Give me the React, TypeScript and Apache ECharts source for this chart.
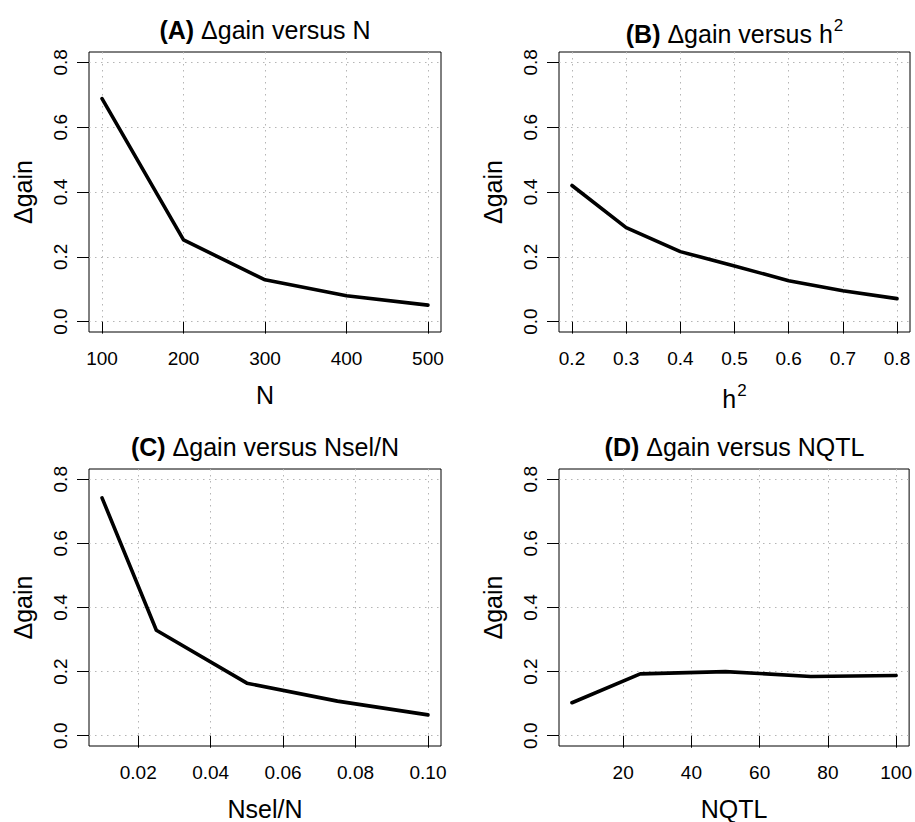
import React, { useEffect, useRef } from "react";
import * as echarts from "echarts";

// ---- data ----
const nValues = [100, 200, 300, 400, 500];
const gainN = [0.688, 0.252, 0.129, 0.08, 0.051];

const h2Values = [0.2, 0.3, 0.4, 0.5, 0.6, 0.7, 0.8];
const gainH2 = [0.42, 0.29, 0.216, 0.172, 0.126, 0.095, 0.071];

const nselValues = [0.01, 0.025, 0.05, 0.075, 0.1];
const gainNsel = [0.742, 0.329, 0.164, 0.108, 0.065];

const qtlValues = [5, 25, 50, 75, 100];
const gainQtl = [0.103, 0.193, 0.2, 0.185, 0.188];

const yTicks = [0, 0.2, 0.4, 0.6, 0.8];
const nTicks = [100, 200, 300, 400, 500];
const h2Ticks = [0.2, 0.3, 0.4, 0.5, 0.6, 0.7, 0.8];
const nselTicks = [0.02, 0.04, 0.06, 0.08, 0.1];
const qtlTicks = [20, 40, 60, 80, 100];

const FONT = "Liberation Sans, Arial, Helvetica, sans-serif";

const richStyles = {
  b: { fontFamily: FONT, fontSize: 25, fontWeight: "bold", color: "#000" },
  n: { fontFamily: FONT, fontSize: 25, fontWeight: "normal", color: "#000" },
  s: { fontFamily: FONT, fontSize: 17, fontWeight: "normal", color: "#000", verticalAlign: "top", padding: [0, 0, 16, 1] },
};

function extend(lo: number, hi: number) {
  const d = (hi - lo) * 0.04;
  return [lo - d, hi + d];
}

type Panel = {
  title: string;
  xName: string;
  xs: number[];
  ys: number[];
  xTicks: number[];
  xDec: number;
  left: number;
  top: number;
  width: number;
  height: number;
};

const panels: Panel[] = [
  { title: "{b|(A)} {n|Δgain versus N}", xName: "{n|N}", xs: nValues, ys: gainN, xTicks: nTicks, xDec: 0, left: 89, top: 52, width: 352, height: 280 },
  { title: "{b|(B)} {n|Δgain versus h}{s|2}", xName: "{n|h}{s|2}", xs: h2Values, ys: gainH2, xTicks: h2Ticks, xDec: 1, left: 559, top: 52, width: 351, height: 280 },
  { title: "{b|(C)} {n|Δgain versus Nsel/N}", xName: "{n|Nsel/N}", xs: nselValues, ys: gainNsel, xTicks: nselTicks, xDec: 2, left: 89, top: 469, width: 352, height: 280 },
  { title: "{b|(D)} {n|Δgain versus NQTL}", xName: "{n|NQTL}", xs: qtlValues, ys: gainQtl, xTicks: qtlTicks, xDec: 0, left: 559, top: 469, width: 351, height: 280 },
];

export default function App() {
  const ref = useRef<HTMLDivElement>(null);
  useEffect(() => {
    if (!ref.current) return;
    const chart = echarts.init(ref.current, undefined, { renderer: "svg" });
    const [yMin, yMax] = extend(0, 0.8);
    const gridLine = { show: true, lineStyle: { color: "#b5b5b5", width: 1, type: [1.5, 4.5] as any } };

    const grid = panels.map((p) => ({
      left: p.left, top: p.top, width: p.width, height: p.height,
      show: true, borderColor: "#000", borderWidth: 1, backgroundColor: "transparent",
    }));
    const title = panels.map((p) => ({
      text: p.title,
      left: p.left + p.width / 2,
      top: p.top - 35,
      textAlign: "center",
      padding: 0,
      textStyle: { fontSize: 25, fontWeight: "normal", color: "#000", fontFamily: FONT, rich: richStyles },
    }));
    const xAxis = panels.map((p, i) => {
      const [mn, mx] = extend(p.xs[0], p.xs[p.xs.length - 1]);
      return {
        gridIndex: i, type: "value", min: mn, max: mx,
        axisLine: { show: false },
        axisTick: { show: true, length: 12, lineStyle: { color: "#000", width: 1 }, customValues: p.xTicks },
        axisLabel: { customValues: p.xTicks, fontSize: 19, color: "#000", fontFamily: FONT, margin: 17,
          formatter: (v: number) => v.toFixed(p.xDec) },
        splitLine: gridLine,
        name: p.xName, nameLocation: "middle", nameGap: 50,
        nameTextStyle: { fontSize: 25, fontWeight: "normal", color: "#000", fontFamily: FONT, rich: richStyles },
      };
    });
    const yAxis = panels.map((p, i) => ({
      gridIndex: i, type: "value", min: yMin, max: yMax,
      axisLine: { show: false },
      axisTick: { show: true, length: 12, lineStyle: { color: "#000", width: 1 }, customValues: yTicks },
      axisLabel: { customValues: yTicks, fontSize: 19, color: "#000", fontFamily: FONT, margin: 19, rotate: 90,
        formatter: (v: number) => v.toFixed(1) },
      splitLine: gridLine,
      name: "Δgain", nameLocation: "middle", nameGap: 54,
      nameTextStyle: { fontSize: 25, color: "#000", fontFamily: FONT },
    }));
    const series = panels.map((p, i) => ({
      type: "line", xAxisIndex: i, yAxisIndex: i,
      data: p.xs.map((x, j) => [x, p.ys[j]]),
      showSymbol: false, symbol: "none",
      lineStyle: { color: "#000", width: 3.6, cap: "round", join: "round" },
      silent: true,
    }));
    chart.setOption({
      animation: false,
      backgroundColor: "#fff",
      title, grid, xAxis, yAxis, series,
    });
    return () => chart.dispose();
  }, []);
  return <div ref={ref} style={{ position: "fixed", left: 0, top: 0, width: 915, height: 822 }} />;
}
